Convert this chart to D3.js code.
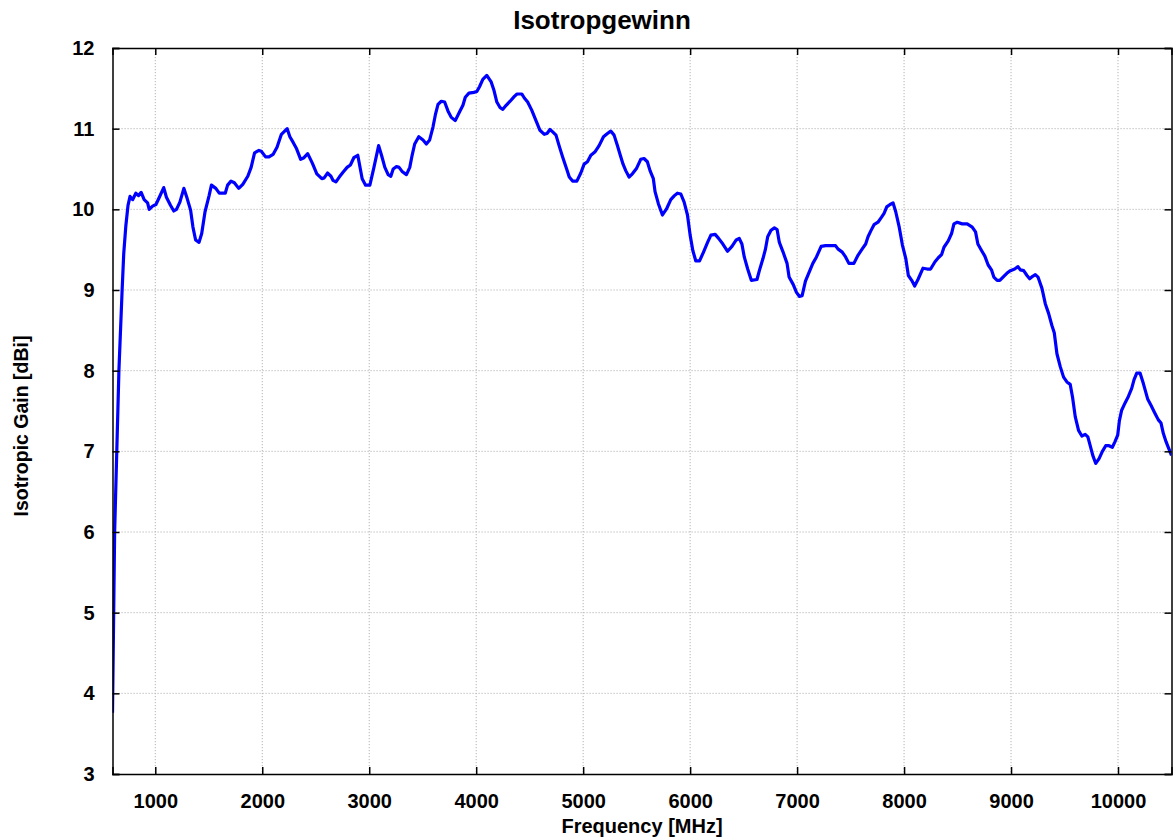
<!DOCTYPE html>
<html>
<head>
<meta charset="utf-8">
<script src="https://cdn.jsdelivr.net/npm/d3@7"></script>
<style>
  body { margin: 0; background: #fff; }
  svg { display: block; font-family: "Liberation Sans", Arial, sans-serif; font-weight: bold; }
  .grid line { stroke: #b4b4b4; stroke-width: 1; stroke-dasharray: 1.2, 1.8; }
</style>
</head>
<body>
<svg id="chart" width="1173" height="839"></svg>
<script>
var freq = [
  600, 620, 640, 660, 690, 705, 725, 745, 764, 789, 818, 843, 868, 896, 928, 943, 975,
  1006, 1038, 1079, 1104, 1142, 1173, 1198, 1230, 1267, 1299, 1330, 1352, 1377, 1409, 1434, 1465,
  1503, 1525, 1566, 1598, 1654, 1676, 1708, 1739, 1780, 1818, 1865, 1896, 1928, 1969, 1991,
  2031, 2063, 2101, 2138, 2179, 2233, 2258, 2289, 2321, 2359, 2390, 2425, 2469,
  2510, 2557, 2579, 2610, 2642, 2661, 2689, 2720, 2755, 2793, 2824, 2856, 2893, 2934, 2966,
  3006, 3044, 3088, 3115, 3146, 3177, 3202, 3224, 3255, 3279, 3307, 3348, 3379, 3401, 3425, 3463,
  3503, 3534, 3565, 3596, 3618, 3643, 3674, 3705, 3736, 3767, 3804, 3845, 3876, 3898, 3932, 3978,
  4006, 4031, 4062, 4099, 4140, 4165, 4193, 4224, 4249, 4280, 4317, 4357, 4382, 4426, 4450, 4481,
  4519, 4559, 4596, 4637, 4662, 4690, 4715, 4746, 4777, 4808, 4848, 4870, 4901, 4941, 4978,
  5009, 5040, 5072, 5109, 5149, 5190, 5227, 5258, 5289, 5320, 5345, 5373, 5398, 5429, 5460,
  5500, 5538, 5569, 5600, 5625, 5656, 5672, 5703, 5741, 5781, 5819, 5853, 5881, 5913, 5944, 5975,
  6000, 6025, 6053, 6088, 6125, 6163, 6194, 6234, 6266, 6306, 6350, 6391, 6431, 6459, 6484,
  6506, 6538, 6572, 6625, 6647, 6681, 6703, 6725, 6756, 6788, 6813, 6834, 6869, 6906, 6925, 6963, 6994,
  7022, 7047, 7078, 7109, 7147, 7181, 7225, 7266, 7319, 7359, 7381, 7422, 7453, 7484,
  7531, 7569, 7609, 7641, 7663, 7688, 7719, 7756, 7788, 7813, 7838, 7869, 7897, 7922, 7953, 7984,
  8016, 8040, 8071, 8099, 8130, 8177, 8217, 8248, 8289, 8320, 8351, 8373, 8413, 8444, 8466, 8497,
  8544, 8590, 8637, 8668, 8690, 8724, 8755, 8786, 8817, 8839, 8870, 8895, 8932, 8963, 8994,
  9034, 9065, 9087, 9118, 9149, 9174, 9202, 9227, 9252, 9289, 9320, 9351, 9382, 9404, 9429, 9460, 9491,
  9522, 9553, 9575, 9600, 9631, 9662, 9693, 9718, 9740, 9764, 9792, 9823, 9854, 9885, 9916, 9947, 9972, 9997,
  10013, 10034, 10066, 10097, 10128, 10150, 10175, 10206, 10237, 10277, 10308, 10346, 10377, 10402,
  10424, 10449, 10470, 10500
]

var gain = [
  3.76, 6.0, 7.0, 8.0, 9.0, 9.45, 9.8, 10.05, 10.16, 10.12, 10.20, 10.17, 10.21, 10.12, 10.08, 10.0, 10.04,
  10.06, 10.15, 10.27, 10.15, 10.05, 9.98, 10.0, 10.09, 10.26, 10.13, 9.99, 9.78, 9.62, 9.59, 9.70, 9.97,
  10.17, 10.30, 10.26, 10.20, 10.20, 10.30, 10.35, 10.33, 10.26, 10.31, 10.41, 10.52, 10.70, 10.73, 10.72,
  10.65, 10.65, 10.68, 10.77, 10.93, 11.0, 10.90, 10.83, 10.75, 10.62, 10.64, 10.69, 10.57,
  10.44, 10.38, 10.39, 10.45, 10.41, 10.36, 10.34, 10.40, 10.46, 10.52, 10.55, 10.64, 10.67, 10.38, 10.30,
  10.30, 10.52, 10.79, 10.67, 10.52, 10.43, 10.41, 10.50, 10.53, 10.52, 10.47, 10.43, 10.52, 10.67, 10.81, 10.90,
  10.86, 10.81, 10.86, 11.02, 11.17, 11.30, 11.34, 11.33, 11.22, 11.14, 11.10, 11.21, 11.29, 11.39, 11.44, 11.45,
  11.46, 11.52, 11.61, 11.66, 11.58, 11.48, 11.33, 11.26, 11.24, 11.29, 11.34, 11.40, 11.43, 11.43, 11.38, 11.33,
  11.23, 11.10, 10.98, 10.93, 10.94, 10.99, 10.96, 10.92, 10.78, 10.65, 10.49, 10.40, 10.35, 10.35, 10.45,
  10.56, 10.59, 10.67, 10.71, 10.79, 10.90, 10.94, 10.97, 10.92, 10.79, 10.68, 10.56, 10.48, 10.40, 10.44,
  10.51, 10.62, 10.63, 10.59, 10.48, 10.38, 10.22, 10.07, 9.93, 10.01, 10.12, 10.17, 10.20, 10.19, 10.09, 9.93,
  9.68, 9.49, 9.36, 9.36, 9.47, 9.59, 9.68, 9.69, 9.64, 9.57, 9.48, 9.54, 9.62, 9.64, 9.57,
  9.41, 9.26, 9.12, 9.13, 9.24, 9.39, 9.50, 9.66, 9.74, 9.77, 9.75, 9.59, 9.47, 9.33, 9.16, 9.07, 8.97,
  8.92, 8.93, 9.11, 9.21, 9.33, 9.41, 9.54, 9.55, 9.55, 9.55, 9.51, 9.47, 9.41, 9.33,
  9.33, 9.43, 9.51, 9.57, 9.66, 9.73, 9.81, 9.84, 9.90, 9.95, 10.03, 10.06, 10.08, 9.97, 9.79, 9.56,
  9.39, 9.18, 9.12, 9.05, 9.13, 9.27, 9.26, 9.26, 9.35, 9.40, 9.44, 9.53, 9.61, 9.70, 9.82, 9.84,
  9.82, 9.82, 9.78, 9.72, 9.57, 9.49, 9.42, 9.31, 9.25, 9.16, 9.12, 9.12, 9.17, 9.21, 9.24,
  9.26, 9.29, 9.25, 9.24, 9.18, 9.14, 9.17, 9.19, 9.16, 9.02, 8.83, 8.71, 8.56, 8.47, 8.21, 8.05, 7.92,
  7.86, 7.83, 7.67, 7.43, 7.26, 7.19, 7.21, 7.18, 7.07, 6.95, 6.85, 6.91, 7.00, 7.07, 7.07, 7.05, 7.12, 7.20,
  7.38, 7.51, 7.60, 7.68, 7.78, 7.89, 7.97, 7.97, 7.84, 7.65, 7.57, 7.47, 7.39, 7.35,
  7.22, 7.12, 7.05, 6.95
]

var xTicks = [1000, 2000, 3000, 4000, 5000, 6000, 7000, 8000, 9000, 10000]
var yTicks = [3, 4, 5, 6, 7, 8, 9, 10, 11, 12]

var title = 'Isotropgewinn'
var xLabel = 'Frequency [MHz]'
var yLabel = 'Isotropic Gain [dBi]'

var margin = { left: 112.5, right: 1.5, top: 48, bottom: 65 }
var width = 1173 - margin.left - margin.right
var height = 839 - margin.top - margin.bottom

var svg = d3.select('#chart')

var x = d3.scaleLinear().domain([600, 10500]).range([0, width])
var y = d3.scaleLinear().domain([3, 12]).range([height, 0])

var g = svg.append('g')
    .attr('transform', `translate(${margin.left}, ${margin.top})`)

renderGrid(g)
renderLine(g)
renderAxes(g)
renderLabels(svg)

function renderGrid (g) {
  var grid = g.append('g').attr('class', 'grid')

  grid.selectAll('.vx').data(xTicks).enter().append('line')
      .attr('x1', d => x(d)).attr('x2', d => x(d))
      .attr('y1', 0).attr('y2', height)

  grid.selectAll('.hy').data(yTicks.slice(1, -1)).enter().append('line')
      .attr('x1', 0).attr('x2', width)
      .attr('y1', d => y(d)).attr('y2', d => y(d))
}

function renderLine (g) {
  var points = freq.map((f, i) => [f, gain[i]])

  g.append('clipPath').attr('id', 'plot-clip')
    .append('rect').attr('width', width).attr('height', height)

  var line = d3.line()
      .x(d => x(d[0]))
      .y(d => y(d[1]))

  g.append('path')
      .datum(points)
      .attr('clip-path', 'url(#plot-clip)')
      .attr('d', line)
      .attr('fill', 'none')
      .attr('stroke', '#0000ff')
      .attr('stroke-width', 3.2)
      .attr('stroke-linejoin', 'round')
}

function renderAxes (g) {
  var tick = 7

  var bottom = g.append('g')
      .attr('transform', `translate(0, ${height})`)
      .call(d3.axisBottom(x).tickValues(xTicks).tickSize(-tick).tickPadding(tick + 13)
        .tickFormat(d3.format('d')))
  var top = g.append('g')
      .call(d3.axisTop(x).tickValues(xTicks).tickSize(-tick).tickFormat(''))
  var left = g.append('g')
      .call(d3.axisLeft(y).tickValues(yTicks).tickSize(-tick).tickPadding(tick + 11))
  var right = g.append('g')
      .attr('transform', `translate(${width}, 0)`)
      .call(d3.axisRight(y).tickValues(yTicks).tickSize(-tick).tickFormat(''))

  ;[bottom, top, left, right].forEach(function (a) {
    a.select('.domain').attr('stroke', '#000').attr('stroke-width', 1.5)
    a.selectAll('.tick line').attr('stroke', '#000').attr('stroke-width', 1.5)
    a.selectAll('text')
        .attr('fill', '#000')
        .attr('font-size', 20)
        .attr('font-weight', 'bold')
        .attr('font-family', '"Liberation Sans", Arial, sans-serif')
  })
}

function renderLabels (svg) {
  svg.append('text')
      .attr('x', 602)
      .attr('y', 29)
      .attr('text-anchor', 'middle')
      .attr('font-size', 26)
      .text(title)

  svg.append('text')
      .attr('x', margin.left + width / 2)
      .attr('y', 833)
      .attr('text-anchor', 'middle')
      .attr('font-size', 20)
      .text(xLabel)

  svg.append('text')
      .attr('transform', 'translate(28, 426) rotate(-90)')
      .attr('text-anchor', 'middle')
      .attr('font-size', 19.5)
      .text(yLabel)
}
</script>
</body>
</html>
